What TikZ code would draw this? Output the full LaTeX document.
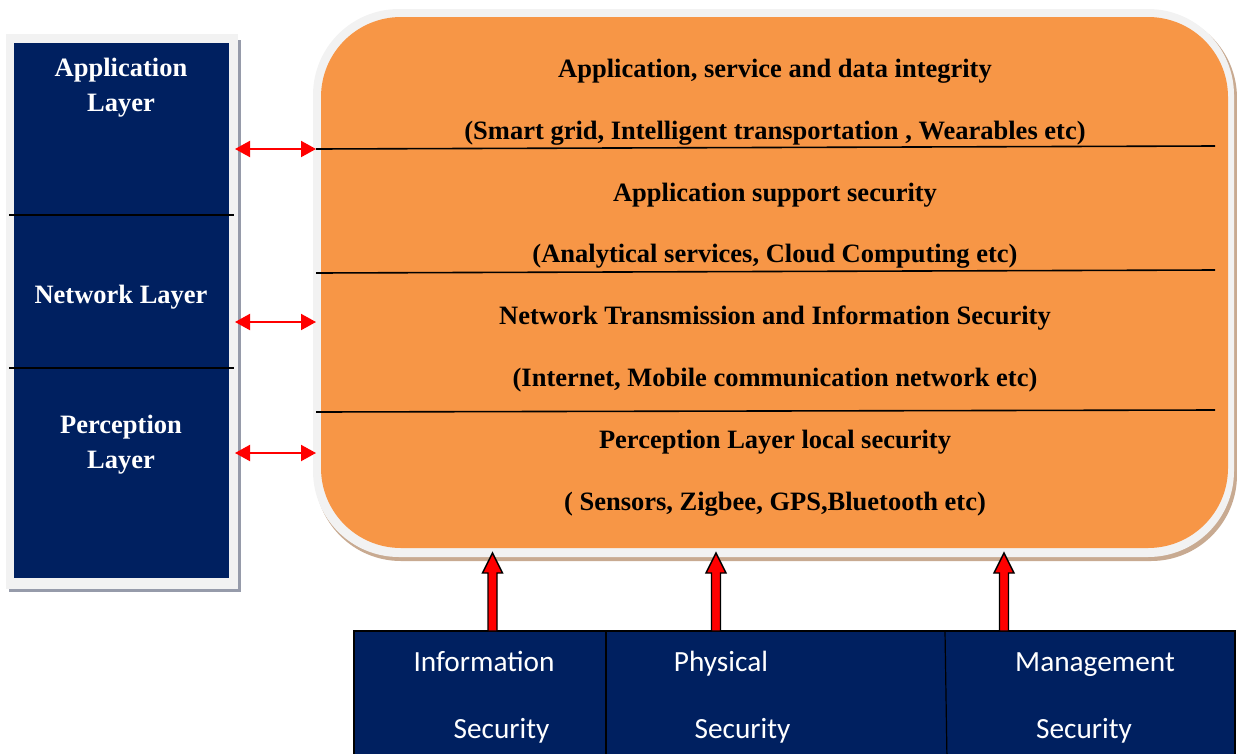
\documentclass[tikz,border=0pt]{standalone}
\usepackage{fontspec}
\setmainfont{Liberation Serif}[BoldFont={Liberation Serif Bold}]
\newfontfamily\serbold{Liberation Serif Bold}
\newfontfamily\secfont{Carlito}
\usetikzlibrary{arrows.meta}
\definecolor{navy}{RGB}{0,32,96}
\definecolor{orng}{RGB}{247,150,70}
\definecolor{bord}{RGB}{242,242,242}
\definecolor{shad}{RGB}{150,155,170}
\definecolor{bshad}{RGB}{200,170,145}
\tikzset{
  sertxt/.style={font=\serbold\fontsize{26.5}{30}\selectfont, text=black, anchor=base, inner sep=0pt},
  laytxt/.style={font=\serbold\fontsize{26.5}{30}\selectfont, text=white, anchor=base, inner sep=0pt},
  sectxt/.style={font=\secfont\fontsize{29.3}{32}\selectfont, text=white, anchor=base, inner sep=0pt},
  sepline/.style={black, line width=1.6pt},
  dblarrow/.style={red, line width=2pt, {Triangle[length=15pt,width=16pt]}-{Triangle[length=15pt,width=16pt]}},
  blockarrow/.style={fill=red, draw=black, line width=1.4pt, line join=miter}
}
\newcommand{\blockarr}[3]{% x, tip y, base y
  \filldraw[blockarrow] (#1-4.5,#3) -- (#1-4.5,#2+20) -- (#1-10,#2+20) -- (#1,#2) -- (#1+10,#2+20) -- (#1+4.5,#2+20) -- (#1+4.5,#3) -- cycle;}
\begin{document}
\begin{tikzpicture}[x=1pt,y=-1pt]
\useasboundingbox (0,0) rectangle (1237,753);
% ---------- left panel ----------
\fill[shad] (9,40) rectangle (241,592);
\fill[bord] (6,34) rectangle (238,589);
\fill[navy] (14,43) rectangle (229,578);
\node[draw=none, minimum width=215pt, minimum height=535pt, inner sep=0pt] (lp) at (121.5,310.5) {};
\draw[sepline] (9,215) -- (234,215);
\draw[sepline] (9,368) -- (234,368);
\node[laytxt] (al1) at (121,76.7) {Application};
\node[laytxt] (al2) at (121,111.7) {Layer};
\node[laytxt] (nl) at (121,303) {Network Layer};
\node[laytxt] (pl1) at (121,433) {Perception};
\node[laytxt] (pl2) at (121,468) {Layer};
% ---------- orange box ----------
\fill[bshad, rounded corners=86pt] (315,12) rectangle (1237,561);
\fill[bord, rounded corners=86pt] (313,9) rectangle (1234,557);
\fill[orng, rounded corners=80pt] (321,17) rectangle (1228,548);
\coordinate (a1) at (316,149);
\coordinate (a2) at (316,322);
\coordinate (a3) at (316,453);
\coordinate (l1) at (235,149);
\coordinate (l2) at (235,322);
\coordinate (l3) at (235,453);
\draw[sepline] (316,149) -- (1215,146);
\draw[sepline] (316,273) -- (1215,270);
\draw[sepline] (316,412) -- (1215,410);
\node[sertxt] (t1) at (775,77) {Application, service and data integrity};
\node[sertxt] (t2) at (775,139) {(Smart grid, Intelligent transportation , Wearables etc)};
\node[sertxt] (t3) at (775,201) {Application support security};
\node[sertxt] (t4) at (775,262.5) {(Analytical services, Cloud Computing etc)};
\node[sertxt] (t5) at (775,324) {Network Transmission and Information Security};
\node[sertxt] (t6) at (775,386) {(Internet, Mobile communication network etc)};
\node[sertxt] (t7) at (775,448) {Perception Layer local security};
\node[sertxt] (t8) at (775,510) {( Sensors, Zigbee, GPS,Bluetooth etc)};
% ---------- double arrows ----------
\draw[dblarrow] (l1) -- (a1);
\draw[dblarrow] (l2) -- (a2);
\draw[dblarrow] (l3) -- (a3);
% ---------- bottom boxes ----------
\filldraw[fill=navy, draw=black, line width=1.2pt] (354,631) rectangle (1235,760);
\node[inner sep=0pt, minimum width=252pt, minimum height=122pt] (isb) at (480,692) {};
\node[inner sep=0pt, minimum width=339pt, minimum height=122pt] (psb) at (775.5,692) {};
\node[inner sep=0pt, minimum width=289pt, minimum height=122pt] (msb) at (1090,692) {};
\draw[black, line width=1.2pt] (606,631) -- (606,760);
\draw[black, line width=1.2pt] (945,631) -- (947,760);
\node[sectxt] (is1) at (484,671) {Information};
\node[sectxt] (is2) at (501.5,738) {Security};
\node[sectxt] (ps1) at (721,671) {Physical};
\node[sectxt] (ps2) at (742.5,738) {Security};
\node[sectxt] (ms1) at (1095,671) {Management};
\node[sectxt] (ms2) at (1084,738) {Security};
% ---------- block arrows ----------
\blockarr{492.5}{553}{631}
\blockarr{716}{553}{631}
\blockarr{1004}{553}{631}
\end{tikzpicture}
\end{document}
